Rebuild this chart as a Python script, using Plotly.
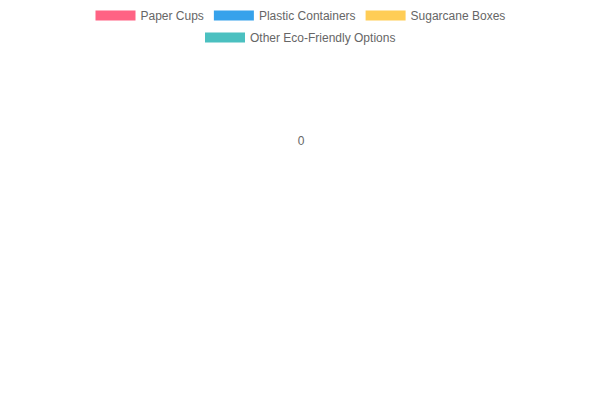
import plotly.graph_objects as go

# Radar categories (none shown in the reference) and the four series
labels = ['']
series_names = ['Paper Cups', 'Plastic Containers', 'Sugarcane Boxes', 'Other Eco-Friendly Options']
paper_cups = [0]
plastic_containers = [0]
sugarcane_boxes = [0]
other_options = [0]
radial_ticks = [0]

colors = ['rgb(255,99,132)', 'rgb(54,162,235)', 'rgb(255,205,86)', 'rgb(75,192,192)']
# first three entries on the top legend row, the last one on the second row
legend_rows = ['legend', 'legend', 'legend', 'legend2']

fig = go.Figure()

for name, values, color, lg in zip(series_names,
                                   [paper_cups, plastic_containers, sugarcane_boxes, other_options],
                                   colors, legend_rows):
    fig.add_trace(go.Scatterpolar(r=values, theta=labels, name=name, mode='lines',
                                  line=dict(color=color, width=10), showlegend=True, legend=lg))

legend_style = dict(orientation='h', x=0.4875, xanchor='center', yanchor='top',
                    itemwidth=40, font=dict(size=12, color='#666'), itemclick=False)

fig.update_layout(
    width=600, height=400,
    margin=dict(l=0, r=0, t=0, b=0, autoexpand=False),
    paper_bgcolor='white',
    font=dict(family='Liberation Sans, Arial, sans-serif', size=12, color='#666'),
    showlegend=True,
    legend=dict(y=1.0175, **legend_style),
    legend2=dict(y=0.9625, **legend_style),
    polar=dict(
        domain=dict(x=[0.44, 0.537], y=[0.64, 0.74]),
        bgcolor='white',
        angularaxis=dict(visible=False),
        radialaxis=dict(range=[0, 1], tickvals=radial_ticks, ticktext=['0'],
                        showline=False, showgrid=False, ticks='', angle=0,
                        tickfont=dict(size=12, color='#666')),
    ),
)

fig.write_html("out.html")
